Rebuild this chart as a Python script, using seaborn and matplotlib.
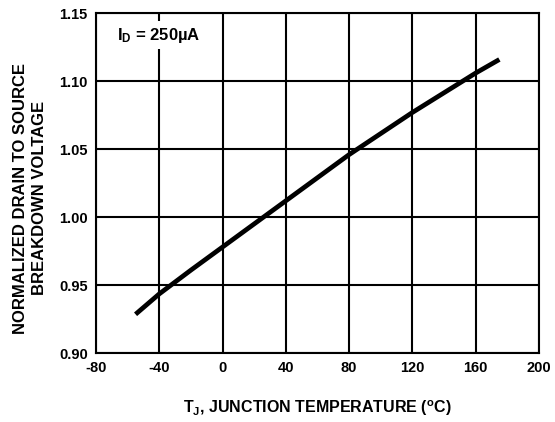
import numpy as np
import pandas as pd
import matplotlib
matplotlib.use("Agg")
import matplotlib.pyplot as plt
import seaborn as sns

# Normalized BVDSS vs junction temperature
temp_c = [-55, -40, -20, 0, 20, 40, 60, 80, 100, 120, 140, 160, 175]
bvdss_norm = [0.9285, 0.9435, 0.961, 0.978, 0.995, 1.012, 1.029, 1.046,
              1.0615, 1.077, 1.0915, 1.106, 1.116]

x_ticks = [-80, -40, 0, 40, 80, 120, 160, 200]
y_ticks = [0.90, 0.95, 1.00, 1.05, 1.10, 1.15]
y_tick_labels = ["0.90", "0.95", "1.00", "1.05", "1.10", "1.15"]

df = pd.DataFrame({"temp": temp_c, "bv": bvdss_norm})

sns.set_style("white")
plt.rcParams["font.family"] = ["Liberation Sans", "DejaVu Sans"]
plt.rcParams["font.weight"] = "bold"
plt.rcParams["text.color"] = "black"
plt.rcParams["xtick.color"] = "black"
plt.rcParams["ytick.color"] = "black"
plt.rcParams["axes.unicode_minus"] = False
plt.rcParams["mathtext.fontset"] = "custom"
plt.rcParams["mathtext.rm"] = "Liberation Sans:bold"
plt.rcParams["mathtext.it"] = "Liberation Sans:bold"
plt.rcParams["mathtext.bf"] = "Liberation Sans:bold"

fig = plt.figure(figsize=(5.55, 4.22), dpi=100)
ax = fig.add_axes([0.173, 0.1635, 0.798, 0.805])

sns.lineplot(data=df, x="temp", y="bv", ax=ax, color="black", linewidth=3.4,
             solid_capstyle="butt", solid_joinstyle="round")

ax.set_xlim(-80, 200)
ax.set_ylim(0.90, 1.15)
ax.set_xticks(x_ticks)
ax.set_yticks(y_ticks)
ax.set_yticklabels(y_tick_labels)
ax.grid(True, color="black", linewidth=1.5)
ax.set_axisbelow(True)
for s in ax.spines.values():
    s.set_color("black")
    s.set_linewidth(1.5)
ax.tick_params(axis="both", length=2, width=1.5, color="black", labelcolor="black",
               labelsize=10.5, pad=4)
for lbl in ax.get_xticklabels() + ax.get_yticklabels():
    lbl.set_fontweight("bold")

ax.set_xlabel("")
ax.set_ylabel("")
fig.text(0.572, 1 - 408 / 422, r"$\mathrm{T_J}$, JUNCTION TEMPERATURE ($\mathrm{^oC}$)",
         ha="center", va="center", fontsize=11.5, fontweight="bold", color="black")
fig.text(30 / 555, 1 - 198 / 422, "NORMALIZED DRAIN TO SOURCE\nBREAKDOWN VOLTAGE",
         ha="center", va="center", rotation=90, fontsize=12, fontweight="bold",
         linespacing=1.25, color="black")

ax.text(-67, 1.134, r"$\mathrm{I_D}$ = 250µA", ha="left", va="center",
        fontsize=12, fontweight="bold", color="black",
        bbox=dict(facecolor="white", edgecolor="none", pad=3))

fig.savefig("out.png", dpi=100)
